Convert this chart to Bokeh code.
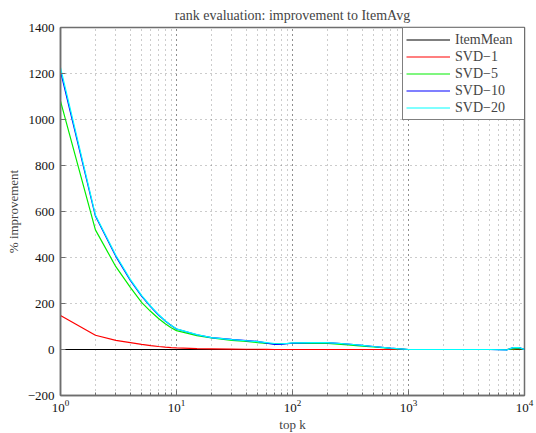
from bokeh.plotting import figure
from bokeh.models import (Range1d, Legend, LegendItem,
                          CustomJSTickFormatter, FixedTicker, LogTicker)
from bokeh.embed import file_html
from bokeh.resources import INLINE

top_k = [1, 2, 3, 4, 5, 6, 7, 8, 9, 10, 15, 20, 30, 40, 50, 60, 70, 80, 90, 100,
         150, 200, 300, 400, 500, 700, 1000, 2000, 3000, 5000, 7000, 8000, 9000, 10000]
item_mean = [0] * len(top_k)
svd_1 = [148, 62, 40, 30, 22, 17, 13, 10, 8, 7, 4, 3, 2, 1, 1, 0.5, 0, 0, 0, 0,
         0, 0, 0, 0, 0, 0, 0, 0, 0, 0, 0, 2, 4, 0]
svd_5 = [1080, 520, 360, 270, 205, 165, 135, 112, 95, 82, 60, 50, 40, 35, 30, 27, 25, 25, 26, 27,
         27, 26, 20, 15, 11, 5, 0, 0, 0, 0, 0, 3, 5, 0]
svd_10 = [1210, 580, 405, 300, 232, 185, 150, 124, 104, 89, 64, 52, 44, 39, 35, 28, 22, 22, 25, 28,
          30, 30, 24, 18, 13, 6, 0, 0, 0, 0, -2, 8, 8, 0]
svd_20 = [1225, 585, 410, 305, 235, 188, 152, 125, 105, 90, 65, 52, 43, 38, 34, 30, 26, 25, 27, 29,
          30, 30, 24, 18, 13, 6, 0, 0, 0, 0, -2, 8, 8, 0]
series_names = ["ItemMean", "SVD\u22121", "SVD\u22125", "SVD\u221210", "SVD\u221220"]
series_colors = ["#000000", "#ff0000", "#00ee00", "#0000ff", "#00ffff"]
y_ticks = [-200, 0, 200, 400, 600, 800, 1000, 1200, 1400]

FONT = "Liberation Serif"
AX = "#6e6e6e"

p = figure(frame_width=464, frame_height=368, x_axis_type="log", output_backend="svg",
           toolbar_location=None, x_range=Range1d(1, 10000), y_range=Range1d(-200, 1400),
           min_border_left=60, min_border_right=12, min_border_top=27, min_border_bottom=38,
           title="rank evaluation: improvement to ItemAvg")
p.title.align = "center"
p.title.text_font = FONT
p.title.text_font_size = "14px"
p.title.text_font_style = "normal"
p.title.standoff = 9

p.outline_line_color = AX
p.outline_line_width = 1.5

fmt = CustomJSTickFormatter(code="return (tick < 0 ? '\u2212' + Math.abs(tick) : '' + tick);")
p.yaxis.ticker = FixedTicker(ticks=y_ticks)
p.yaxis.formatter = fmt

for ax in [p.xaxis[0], p.yaxis[0]]:
    ax.axis_line_color = AX
    ax.axis_line_width = 1.5
    ax.major_tick_in = 5
    ax.major_tick_out = 0
    ax.minor_tick_in = 3
    ax.minor_tick_out = 0
    ax.major_tick_line_color = AX
    ax.minor_tick_line_color = AX
    ax.major_label_text_font = FONT
    ax.major_label_text_font_size = "13px"
    ax.major_label_text_color = "#111111"
    ax.axis_label_text_font = FONT
    ax.axis_label_text_font_size = "13px"
    ax.axis_label_text_font_style = "normal"
    ax.axis_label_standoff = 2
    ax.major_label_standoff = 6

p.xaxis.axis_label = "top k"
p.yaxis.axis_label = "% improvement"
p.yaxis.axis_label_standoff = 4
p.xaxis.major_label_standoff = 4
p.xaxis.ticker = LogTicker(desired_num_ticks=5, num_minor_ticks=10)

for attr in ["grid_line", "minor_grid_line"]:
    setattr(p.xgrid, attr + "_color", "#555555")
    setattr(p.xgrid, attr + "_dash", "1 4")
    setattr(p.xgrid, attr + "_alpha", 0.6)
p.ygrid.grid_line_color = "#555555"
p.ygrid.grid_line_dash = "1 4"
p.ygrid.grid_line_alpha = 0.6

series = [item_mean, svd_1, svd_5, svd_10, svd_20]
items = []
for name, col, ys in zip(series_names, series_colors, series):
    r = p.line(top_k, ys, line_color=col, line_width=1.2)
    items.append(LegendItem(label=name, renderers=[r]))

legend = Legend(items=items, location=(342, 275))
legend.label_text_font = FONT
legend.label_text_font_size = "14px"
legend.border_line_color = "#000000"
legend.border_line_width = 1
legend.background_fill_color = "white"
legend.background_fill_alpha = 1
legend.glyph_width = 44
legend.glyph_height = 17
legend.label_height = 17
legend.label_width = 66
legend.spacing = 0
legend.padding = 3
legend.margin = 0
legend.label_standoff = 5
p.add_layout(legend)

open("out.html", "w").write(file_html(p, INLINE))
